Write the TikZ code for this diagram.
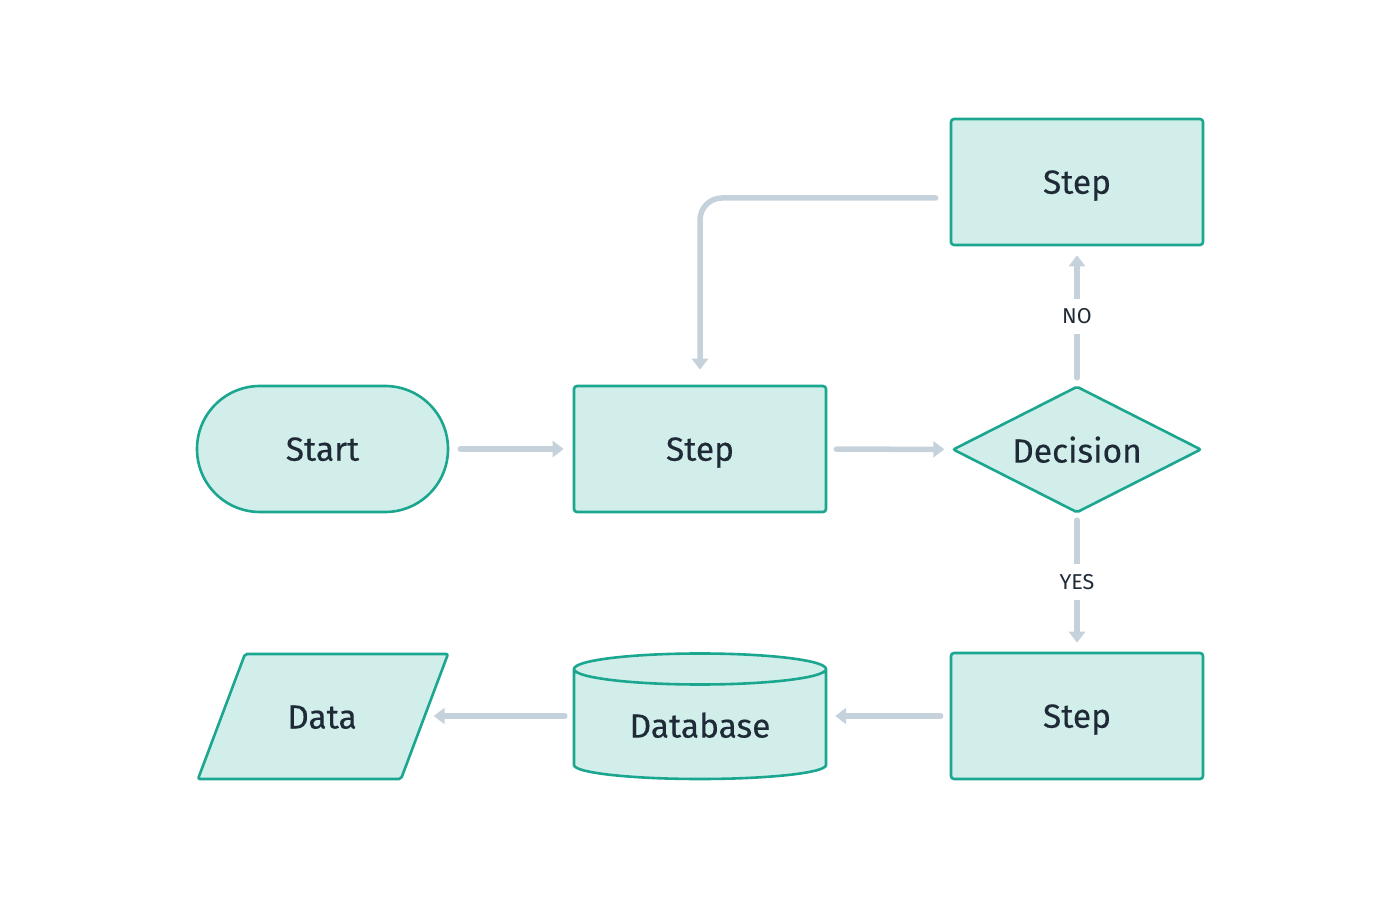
\documentclass[tikz,border=0pt]{standalone}
\usepackage{fontspec}
\setmainfont{Fira Sans}[UprightFeatures={FakeBold=0.3}]
\newfontfamily\lblfont{Fira Sans}
\usetikzlibrary{arrows.meta}
\definecolor{teal1}{HTML}{1AA68F}
\definecolor{tealfill}{HTML}{D2EEEB}
\definecolor{connc}{HTML}{C6D2DB}
\definecolor{txt}{HTML}{1E2A36}
\begin{document}
\begin{tikzpicture}[x=1pt,y=1pt,
  shp/.style={draw=teal1, fill=tealfill, line width=2.6pt},
  lab/.style={text=txt, font=\fontsize{33.5}{38}\selectfont, text depth=0pt},
  box/.style={shp, lab, inner sep=0pt},
  stepbox/.style={box, rectangle, rounded corners=3pt, minimum width=252pt, minimum height=126pt},
  conn/.style={draw=connc, line width=5.5pt, line cap=round, -{Triangle[length=11pt,width=16pt]}},
  lbl/.style={fill=white, text=txt, font=\lblfont\fontsize{21.5}{25}\selectfont, inner xsep=4pt, inner ysep=10pt}]
\useasboundingbox (0,0) rectangle (1400,900);
% shapes
\node[box, rectangle, rounded corners=62.9pt, minimum width=251pt, minimum height=126pt] (start) at (322.5,451) {Start};
\node[stepbox] (mid) at (700,451) {Step};
\node[lab, inner sep=0pt, minimum width=247pt, minimum height=125pt] (dec) at (1077,450.5) {};
\draw[shp, rounded corners=2pt] (dec.north) -- (dec.east) -- (dec.south) -- (dec.west) -- cycle;
\node[lab] (declabel) at (dec.center) {Decision};
\node[stepbox] (top) at (1077,718) {Step};
\node[stepbox] (bot) at (1077,184) {Step};
% database
\node[inner sep=0pt, minimum width=252pt, minimum height=125pt] (db) at (700,183.5) {};
\draw[shp] (574,231) -- (574,135) arc[start angle=180,end angle=360,x radius=126,y radius=14] -- (826,231) arc[start angle=0,end angle=360,x radius=126,y radius=15.5];
\node[lab] (dblabel) at (700,175) {Database};
% data
\draw[shp, rounded corners=2pt] (198,121) -- (245,246) -- (448,246) -- (401,121) -- cycle;
\node[lab] (data) at (322,183) {Data};
\coordinate (dataR) at (424.7,184);
% connectors
\draw[conn, shorten <=11pt, shorten >=9pt] (start) -- (mid);
\draw[conn, shorten <=9pt, shorten >=9pt] (mid) -- (dec);
\draw[conn, shorten <=9pt, shorten >=9pt] (dec) -- node[lbl] (nolabel) {NO} (top);
\draw[conn, shorten <=8pt, shorten >=9pt] (dec) -- node[lbl] (yeslabel) {YES} (bot);
\draw[conn, shorten <=9pt, shorten >=9pt] (bot.west) -- (bot.west -| db.east);
\draw[conn, shorten <=9pt, shorten >=9pt] (db.west |- dataR) -- (dataR);
\draw[conn, rounded corners=22pt, shorten >=15pt] ([xshift=-14pt,yshift=-16pt]top.west) -| (mid.north);
\end{tikzpicture}
\end{document}
